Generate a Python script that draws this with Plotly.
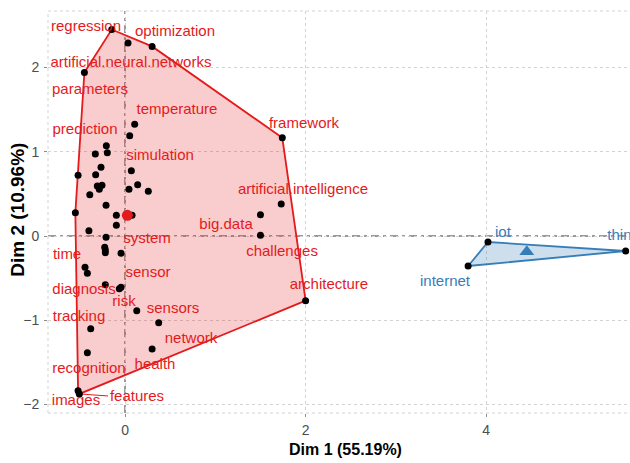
import plotly.graph_objects as go

# ---- data ----
red_x = [-0.147, 0.033, 0.30, -0.45, 0.107, 0.052, 1.742, -0.207, -0.329, -0.196,
         -0.52, -0.266, -0.325, 0.07, -0.307, -0.255, -0.285, 0.14, 0.044, 0.258,
         -0.39, -0.21, -0.55, -0.096, 0.078, -0.096, 1.50, 1.73, 1.50, -0.40,
         -0.21, -0.225, -0.218, -0.218, -0.044, -0.443, -0.417, -0.218, -0.044, -0.063,
         2.0, 0.13, 0.373, -0.38, -0.417, 0.30, -0.52, -0.506]
red_y = [2.45, 2.29, 2.25, 1.94, 1.325, 1.19, 1.166, 1.07, 0.973, 0.988,
         0.72, 0.815, 0.727, 0.775, 0.593, 0.601, 0.554, 0.609, 0.554, 0.530,
         0.49, 0.364, 0.277, 0.245, 0.245, 0.127, 0.253, 0.38, 0.008, 0.063,
         -0.015, -0.134, -0.166, -0.198, -0.205, -0.371, -0.443, -0.578, -0.609, -0.625,
         -0.767, -0.886, -1.028, -1.10, -1.384, -1.34, -1.835, -1.874]

blue_x = [4.02, 3.80, 5.545]
blue_y = [-0.071, -0.356, -0.178]

red_center = [0.026, 0.245]
blue_center = [4.45, -0.186]

red_labels = ["regression", "optimization", "artificial.neural.networks", "parameters",
              "temperature", "prediction", "simulation", "framework",
              "artificial.intelligence", "big.data", "challenges", "architecture",
              "system", "time", "sensor", "diagnosis", "risk", "sensors", "tracking",
              "network", "recognition", "health", "features", "images"]
red_label_x = [-0.432, 0.554, 0.066, -0.388, 0.576, -0.443, 0.388, 1.982,
               1.971, 1.119, 1.739, 2.259, 0.244, -0.642, 0.255, -0.454, -0.011,
               0.532, -0.509, 0.731, -0.399, 0.332, 0.133, -0.543]
red_label_y = [2.479, 2.420, 2.052, 1.732, 1.495, 1.257, 0.949, 1.329,
               0.546, 0.130, -0.190, -0.581, -0.036, -0.225, -0.439, -0.641, -0.783,
               -0.866, -0.961, -1.222, -1.578, -1.530, -1.910, -1.957]

blue_labels = ["iot", "internet", "things"]
blue_label_x = [4.186, 3.544, 5.564]
blue_label_y = [0.036, -0.546, 0.0]

# leader segment for "features" (point -> label edge)
features_seg_x = [-0.506, -0.188]
features_seg_y = [-1.874, -1.898]

x_ticks = [0, 2, 4]
y_ticks = [-2, -1, 0, 1, 2]
x_title = "Dim 1 (55.19%)"
y_title = "Dim 2 (10.96%)"

RED = "#E41A1C"
BLUE = "#377EB8"
FONT = "Liberation Sans, Arial, sans-serif"


def convex_hull(xs, ys):
    pts = sorted(set(zip(xs, ys)))
    if len(pts) <= 2:
        return pts

    def cross(o, a, b):
        return (a[0] - o[0]) * (b[1] - o[1]) - (a[1] - o[1]) * (b[0] - o[0])

    lower, upper = [], []
    for p in pts:
        while len(lower) >= 2 and cross(lower[-2], lower[-1], p) <= 0:
            lower.pop()
        lower.append(p)
    for p in reversed(pts):
        while len(upper) >= 2 and cross(upper[-2], upper[-1], p) <= 0:
            upper.pop()
        upper.append(p)
    return lower[:-1] + upper[:-1]


fig = go.Figure()

for xs, ys, col, fillc in [(red_x, red_y, RED, "rgba(228,26,28,0.22)"),
                           (blue_x, blue_y, BLUE, "rgba(55,126,184,0.25)")]:
    h = convex_hull(xs, ys)
    hx = [p[0] for p in h] + [h[0][0]]
    hy = [p[1] for p in h] + [h[0][1]]
    fig.add_trace(go.Scatter(x=hx, y=hy, mode="lines", fill="toself", fillcolor=fillc,
                             line=dict(color=col, width=1.8), hoverinfo="skip",
                             showlegend=False))

fig.add_trace(go.Scatter(x=features_seg_x, y=features_seg_y, mode="lines",
                         line=dict(color=RED, width=1), hoverinfo="skip", showlegend=False))

fig.add_trace(go.Scatter(x=red_x + blue_x, y=red_y + blue_y, mode="markers",
                         marker=dict(color="black", size=7), showlegend=False))

fig.add_trace(go.Scatter(x=[red_center[0]], y=[red_center[1]], mode="markers",
                         marker=dict(color=RED, size=11), showlegend=False))
fig.add_trace(go.Scatter(x=[blue_center[0]], y=[blue_center[1]], mode="markers",
                         marker=dict(color=BLUE, size=13, symbol="triangle-up"),
                         showlegend=False))

fig.add_trace(go.Scatter(x=red_label_x, y=red_label_y, mode="text", text=red_labels,
                         textfont=dict(color=RED, size=15, family=FONT),
                         textposition="middle center", showlegend=False, hoverinfo="skip"))
fig.add_trace(go.Scatter(x=blue_label_x, y=blue_label_y, mode="text", text=blue_labels,
                         textfont=dict(color=BLUE, size=15, family=FONT),
                         textposition="middle center", showlegend=False, hoverinfo="skip"))

XR = [-0.853, 5.593]
YR = [-2.10, 2.67]
GRID = "#D3D3D3"

shapes = [
    dict(type="line", xref="x", yref="y", x0=0, x1=0, y0=YR[0], y1=YR[1],
         line=dict(color="#7A7A7A", width=1.5, dash="8px,4px,3px,4px"), layer="below"),
    dict(type="line", xref="x", yref="y", x0=XR[0], x1=XR[1], y0=0, y1=0,
         line=dict(color="#7A7A7A", width=1.5, dash="8px,4px,3px,4px"), layer="below"),
    dict(type="line", xref="paper", yref="paper", x0=0, x1=1, y0=1, y1=1,
         line=dict(color=GRID, width=1, dash="dot"), layer="below"),
    dict(type="line", xref="paper", yref="paper", x0=0, x1=1, y0=0, y1=0,
         line=dict(color=GRID, width=1, dash="dot"), layer="below"),
    dict(type="line", xref="paper", yref="paper", x0=0, x1=0, y0=0, y1=1,
         line=dict(color=GRID, width=1, dash="dot"), layer="below"),
]

fig.update_layout(
    width=630, height=463,
    margin=dict(l=48, r=0, t=11, b=50),
    plot_bgcolor="white", paper_bgcolor="white",
    font=dict(family=FONT),
    shapes=shapes,
    xaxis=dict(range=XR, tickvals=x_ticks, showgrid=True, gridcolor=GRID, griddash="dot",
               gridwidth=1, zeroline=False, showline=False, ticks="outside", ticklen=3,
               tickcolor="#8C8C8C", tickfont=dict(color="#4D4D4D", size=14),
               ticklabelstandoff=1, automargin=False),
    yaxis=dict(range=YR, tickvals=y_ticks, showgrid=True, gridcolor=GRID, griddash="dot",
               gridwidth=1, zeroline=False, showline=False, ticks="outside", ticklen=3,
               tickcolor="#8C8C8C", tickfont=dict(color="#4D4D4D", size=14),
               ticklabelstandoff=2, automargin=False),
    annotations=[
        dict(text="<b>%s</b>" % x_title, xref="paper", yref="paper", x=0.512, y=-0.09,
             xanchor="center", yanchor="middle", showarrow=False,
             font=dict(size=16, color="black", family=FONT)),
        dict(text="<b>%s</b>" % y_title, xref="paper", yref="paper", x=-0.052, y=0.505,
             xanchor="center", yanchor="middle", showarrow=False, textangle=-90,
             font=dict(size=19, color="black", family=FONT)),
    ],
)

fig.write_html("out.html", config={"displayModeBar": False},
               post_script="document.body.style.margin='0px';document.body.style.padding='0px';")
